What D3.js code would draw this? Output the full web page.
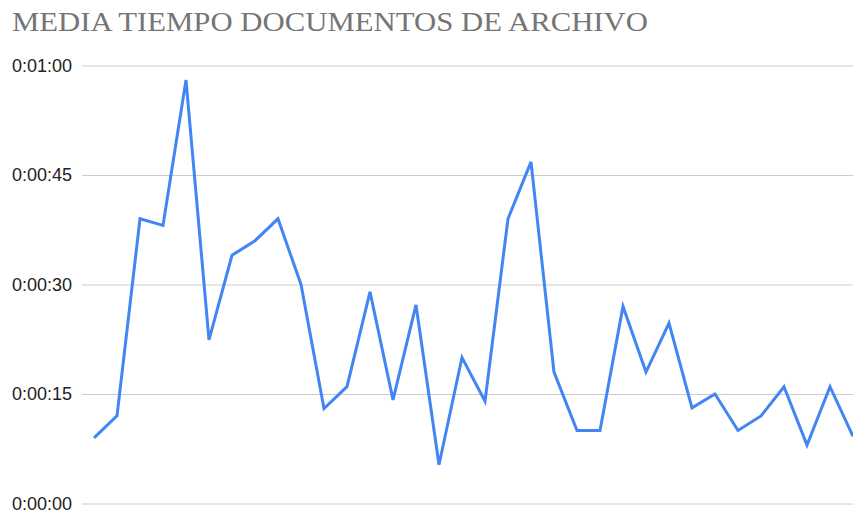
<!DOCTYPE html>
<html>
<head>
<meta charset="utf-8">
<script src="https://cdn.jsdelivr.net/npm/d3@7"></script>
<style>
  html, body { margin: 0; padding: 0; background: #fff; }
  svg { display: block; }
</style>
</head>
<body>
<div id="chart"></div>
<script>
const width = 853;
const height = 512;

const title = 'MEDIA TIEMPO DOCUMENTOS DE ARCHIVO';

// average time in seconds per point
const seconds = [
  9, 12, 39, 38.1, 58, 22.4, 34, 36, 39, 30,
  13, 16, 29, 14.2, 27.2, 5.3, 20, 14, 39, 46.8,
  18, 10, 10, 27, 18, 24.7, 13.1, 15, 10, 12,
  16, 8, 16, 9.2
];
const tickValues = [0, 15, 30, 45, 60];
const tickLabels = ['0:00:00', '0:00:15', '0:00:30', '0:00:45', '0:01:00'];

const margin = { top: 65.5, right: 0, bottom: 8.5, left: 94 };
const gridLeft = 82;

const svg = d3.select('#chart')
  .append('svg')
  .attr('width', width)
  .attr('height', height);

// title is drawn in a wide serif, stretched to the reference width
svg.append('text')
  .attr('x', 12)
  .attr('y', 31)
  .attr('font-family', '"Liberation Serif", "Times New Roman", serif')
  .attr('font-size', 26.5)
  .attr('fill', '#757575')
  .attr('textLength', 636)
  .attr('lengthAdjust', 'spacingAndGlyphs')
  .text(title);

const xScale = d3.scaleLinear()
  .domain([0, seconds.length - 1])
  .range([margin.left, width - margin.right]);

const yScale = d3.scaleLinear()
  .domain([0, 60])
  .range([height - margin.bottom, margin.top]);

const yAxis = d3.axisLeft(yScale)
  .tickValues(tickValues)
  .tickSize(-(width - gridLeft))
  .tickPadding(10)
  .tickFormat((d, i) => tickLabels[i]);

const axisG = svg.append('g')
  .attr('transform', `translate(${gridLeft},0)`)
  .call(yAxis);

axisG.select('.domain').remove();
axisG.selectAll('.tick line')
  .attr('stroke', '#cccccc')
  .attr('stroke-width', 1);
axisG.selectAll('.tick text')
  .attr('font-family', '"Liberation Sans", Arial, sans-serif')
  .attr('font-size', 18)
  .attr('fill', '#222222');

const line = d3.line()
  .x((d, i) => xScale(i))
  .y(d => yScale(d));

svg.append('path')
  .datum(seconds)
  .attr('fill', 'none')
  .attr('stroke', '#4285f4')
  .attr('stroke-width', 3)
  .attr('stroke-linejoin', 'miter')
  .attr('d', line);
</script>
</body>
</html>
